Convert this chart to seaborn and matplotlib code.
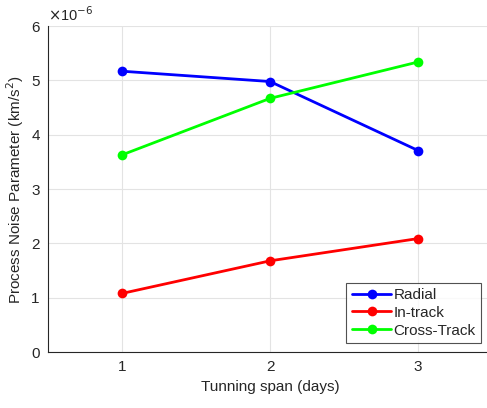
import pandas as pd
import numpy as np
import matplotlib
matplotlib.use('Agg')
import matplotlib.pyplot as plt
import seaborn as sns

# valores (em unidades de 1e-6 km/s^2)
span_days = [1, 2, 3]
radial = [5.17, 4.98, 3.71]
in_track = [1.08, 1.68, 2.09]
cross_track = [3.63, 4.67, 5.34]
series_names = ['Radial', 'In-track', 'Cross-Track']
series_colors = ['#0000ff', '#ff0000', '#00ff00']

df = pd.DataFrame({
    'span': span_days * 3,
    'valor': radial + in_track + cross_track,
    'serie': np.repeat(series_names, len(span_days)),
})

sns.set_style('white')
plt.rcParams['font.family'] = ['Liberation Sans', 'DejaVu Sans']

fig = plt.figure(figsize=(4.87, 4.08), dpi=100)
ax = fig.add_axes([0.0986, 0.137, 0.912, 0.799])

sns.lineplot(data=df, x='span', y='valor', hue='serie', hue_order=series_names,
             palette=dict(zip(series_names, series_colors)), marker='o',
             markersize=7, markeredgewidth=0, linewidth=2, ax=ax)

ax.set_xlim(0.5, 3.5)
ax.set_ylim(0, 6)
ax.set_xticks(span_days)
ax.set_yticks(range(0, 7))
ax.grid(True, color='#e3e3e3', linewidth=0.8)
ax.set_axisbelow(True)
for s in ['top', 'right']:
    ax.spines[s].set_visible(False)
for s in ['left', 'bottom']:
    ax.spines[s].set_color('#262626')
    ax.spines[s].set_linewidth(0.8)
ax.tick_params(axis='both', direction='in', length=3, colors='#262626',
               labelsize=11, pad=6)

ax.set_xlabel('Tunning span (days)', fontsize=11, color='#262626')
ax.set_ylabel('Process Noise Parameter (km/s$^2$)', fontsize=11, color='#262626')
ax.text(0.0, 1.005, r'$\times$10$^{-6}$', transform=ax.transAxes,
        fontsize=10.5, color='#262626', ha='left', va='bottom')

leg = ax.legend(loc='lower right', bbox_to_anchor=(0.996, 0.0), frameon=True,
                fancybox=False, fontsize=11, edgecolor='#262626',
                borderaxespad=0.6, handlelength=2.6, handletextpad=0.15,
                labelspacing=0.25, borderpad=0.35)
leg.get_frame().set_linewidth(0.8)

fig.savefig('out.png', dpi=100)
